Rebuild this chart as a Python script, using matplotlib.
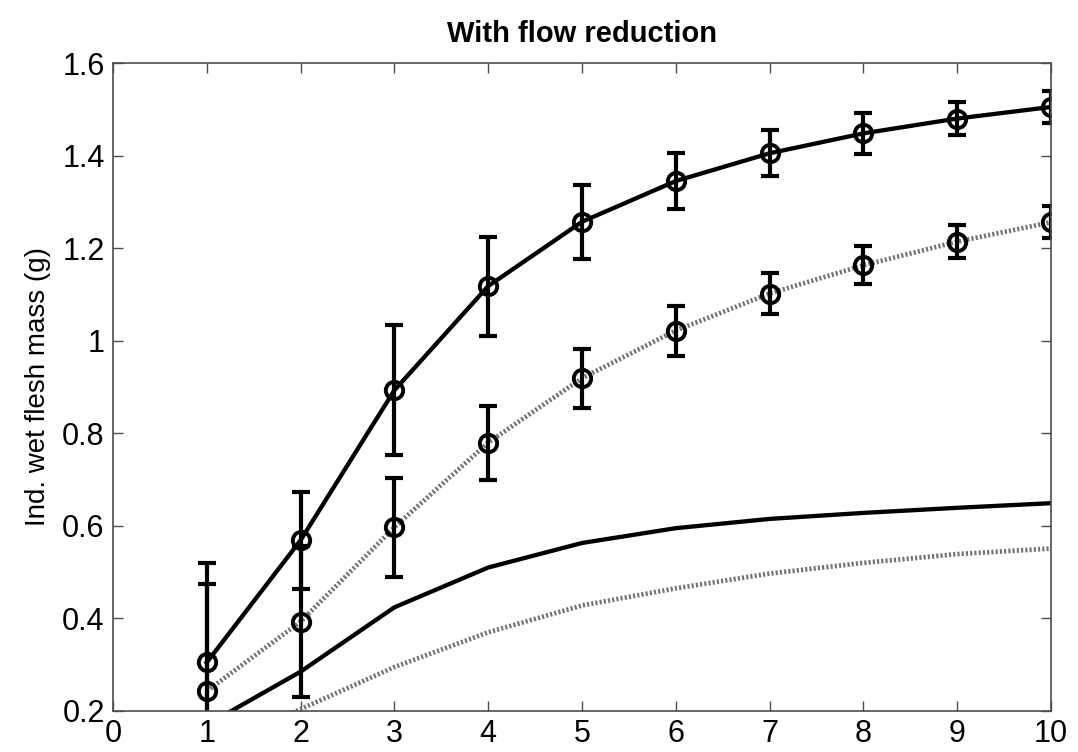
import matplotlib
matplotlib.use("Agg")
import matplotlib.pyplot as plt
import numpy as np

plt.rcParams['font.family'] = ['Liberation Sans', 'DejaVu Sans']

# Data
days = [1, 2, 3, 4, 5, 6, 7, 8, 9, 10]
obs_high = [0.305, 0.569, 0.893, 1.118, 1.257, 1.345, 1.405, 1.448, 1.480, 1.505]
obs_high_err = [0.215, 0.105, 0.140, 0.107, 0.080, 0.060, 0.050, 0.044, 0.036, 0.034]
obs_low = [0.243, 0.393, 0.597, 0.780, 0.919, 1.022, 1.102, 1.163, 1.214, 1.256]
obs_low_err = [0.232, 0.163, 0.107, 0.080, 0.064, 0.054, 0.045, 0.041, 0.035, 0.035]
mod_high = [0.170, 0.285, 0.424, 0.510, 0.563, 0.595, 0.615, 0.628, 0.639, 0.649]
mod_low = [0.115, 0.204, 0.295, 0.370, 0.428, 0.465, 0.497, 0.520, 0.539, 0.551]

xticks = list(range(0, 11))
yticks = [0.2, 0.4, 0.6, 0.8, 1.0, 1.2, 1.4, 1.6]
yticklabels = ['0.2', '0.4', '0.6', '0.8', '1', '1.2', '1.4', '1.6']

fig = plt.figure(figsize=(10.78, 7.52), dpi=100)
ax = fig.add_axes([113/1078, 1-711/752, (1051-113)/1078, (711-63)/752])

dot_style = dict(color='0.45', linestyle=(0, (0.45, 0.45)), linewidth=3.4)
solid_style = dict(color='black', linestyle='-', linewidth=3.1)

# model curves
ax.plot(days, mod_high, **solid_style)
ax.plot(days, mod_low, **dot_style)

# observed with error bars
ax.plot(days, obs_low, **dot_style)
ax.errorbar(days, obs_low, yerr=obs_low_err, fmt='none', ecolor='black',
            elinewidth=3.0, capsize=6.5, capthick=3.0)
ax.plot(days, obs_low, linestyle='none', marker='o', markersize=12.5,
        markerfacecolor='none', markeredgecolor='black', markeredgewidth=2.8)

ax.errorbar(days, obs_high, yerr=obs_high_err, fmt='none', ecolor='black',
            elinewidth=3.0, capsize=6.5, capthick=3.0)
ax.plot(days, obs_high, marker='o', markersize=12.5, markerfacecolor='none',
        markeredgecolor='black', markeredgewidth=2.8, **solid_style)

ax.set_xlim(0, 10)
ax.set_ylim(0.2, 1.6)
ax.set_xticks(xticks)
ax.set_yticks(yticks)
ax.set_yticklabels(yticklabels)
ax.tick_params(direction='in', length=7, width=1, color='0.3', labelsize=22,
               top=True, right=True, pad=6)
for s in ax.spines.values():
    s.set_color('0.3')
    s.set_linewidth(1.2)

ax.set_ylabel('Ind. wet flesh mass (g)', fontsize=20, labelpad=8)
ax.set_title('With flow reduction', fontsize=21, fontweight='bold', pad=15)

fig.savefig('out.png', dpi=100)
